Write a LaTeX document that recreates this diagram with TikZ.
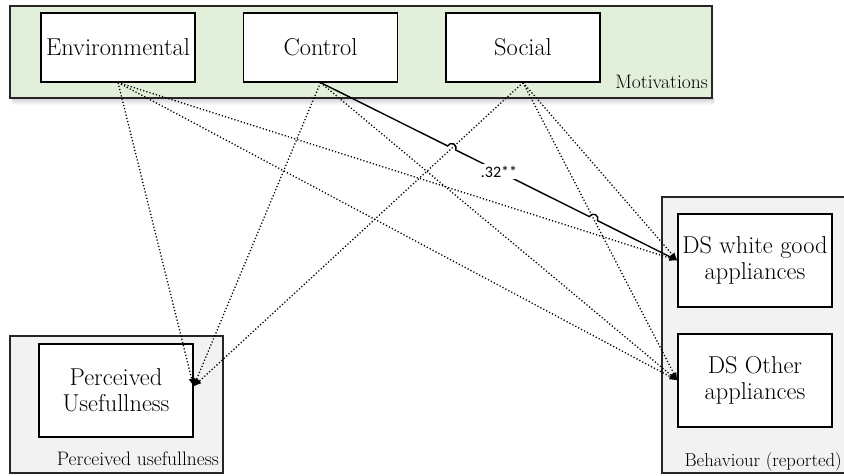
\documentclass[tikz,border=0pt]{standalone}
\usetikzlibrary{arrows.meta,calc}
\usepackage{fontspec}
\newfontfamily\carlito{Carlito}
\definecolor{motgreen}{HTML}{E2EFDA}
\definecolor{boxgray}{HTML}{F2F2F2}
\begin{document}
\begin{tikzpicture}[x=1pt,y=-1pt,
  container/.style={draw=black!85, line width=1.3pt},
  varbox/.style={draw=black, line width=1.1pt, fill=white, minimum width=154pt,
    minimum height=69pt, inner sep=0pt, align=center,
    font=\fontsize{24.4}{26}\selectfont},
  tallbox/.style={varbox, minimum height=93pt},
  grouplabel/.style={inner sep=0pt, font=\fontsize{19.5}{22}\selectfont},
  dotarrow/.style={line width=1.3pt, dash pattern=on 1.2pt off 2.1pt,
    -{Latex[length=8pt,width=6pt]}},
  solidarrow/.style={line width=1.4pt, -{Latex[length=8pt,width=6pt]}},
  coeff/.style={fill=white, inner sep=2pt, font=\carlito\fontsize{16}{18}\selectfont}
]
\useasboundingbox (0,0) rectangle (844,475);
% containers
\shade[top color=blue!10!gray!35, bottom color=white] (12,98) rectangle (714,105);
\draw[container, fill=motgreen] (10,6) rectangle (712,98);
\draw[container, fill=boxgray] (10,336) rectangle (223,473);
\draw[container, fill=boxgray] (662,197) rectangle (852,473);
% group labels
\node[grouplabel, anchor=base east] (motlbl) at (708,88) {Motivations};
\node[grouplabel, anchor=base east] (pulbl) at (219,465) {Perceived usefullness};
\node[grouplabel, anchor=base east, font=\fontsize{18.6}{22}\selectfont] (behlbl) at (842,466) {Behaviour (reported)};
% boxes
\node[varbox] (env) at (118,47.5) {Environmental};
\node[varbox] (ctl) at (320.5,47.5) {Control};
\node[varbox] (soc) at (523,47.5) {Social};
\node[tallbox] (pu) at (116,390.5) {Perceived\\Usefullness};
\node[tallbox] (dsw) at (755,260.5) {DS white good\\appliances};
\node[tallbox] (dso) at (755,380.5) {DS Other\\appliances};
\coordinate (puin) at ([yshift=4pt]pu.east);
% dotted connectors
\draw[dotarrow] (env.south) -- (puin);
\draw[dotarrow] (env.south) -- (dsw.west);
\draw[dotarrow] (env.south) -- (dso.west);
\draw[dotarrow] (ctl.south) -- (puin);
\draw[dotarrow] (ctl.south) -- (dso.west);
\draw[dotarrow] (soc.south) -- (puin);
\draw[dotarrow] (soc.south) -- (dsw.west);
\draw[dotarrow] (soc.south) -- (dso.west);
% solid connector with line hops
\draw[solidarrow] (ctl.south) -- ($(ctl.south)!0.3563!(dsw.west)$)
  arc[start angle=153.47, end angle=-26.53, radius=4.5pt]
  -- ($(ctl.south)!0.7534!(dsw.west)$)
  arc[start angle=153.47, end angle=-26.53, radius=4.5pt]
  -- (dsw.west);
\node[coeff] (c32) at ($(ctl.south)!0.5!(dsw.west)$) {.32**};
\end{tikzpicture}
\end{document}
